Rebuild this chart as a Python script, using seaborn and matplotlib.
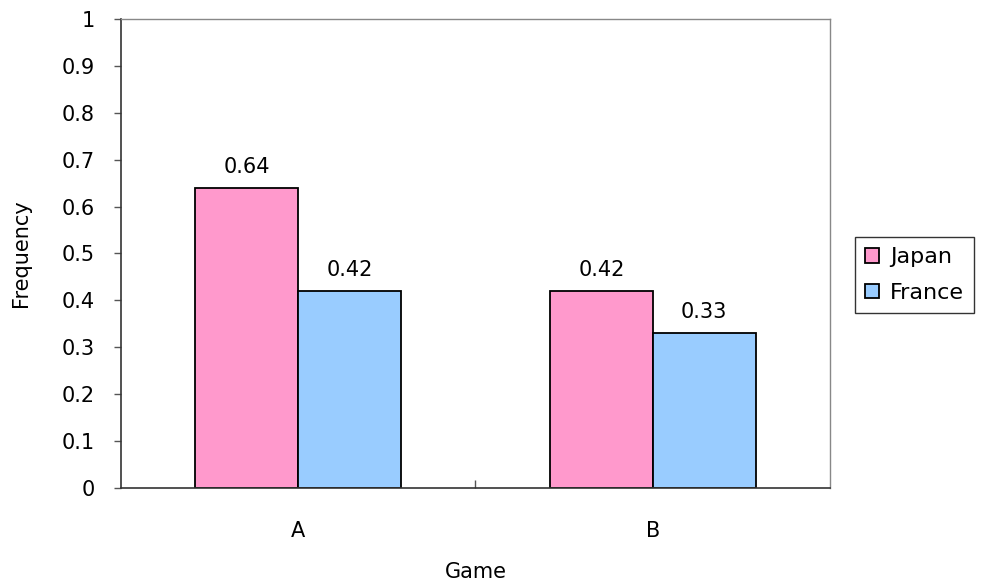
import matplotlib
matplotlib.use("Agg")
import matplotlib.pyplot as plt
import seaborn as sns
import pandas as pd
from matplotlib.ticker import FixedLocator, FuncFormatter

games = ["A", "B"]
countries = ["Japan", "France"]
japan = [0.64, 0.42]
france = [0.42, 0.33]
colors = ["#FF99CC", "#99CCFF"]
yticks = [0, 0.1, 0.2, 0.3, 0.4, 0.5, 0.6, 0.7, 0.8, 0.9, 1]

df = pd.DataFrame({
    "Game": games * 2,
    "Country": ["Japan"] * len(games) + ["France"] * len(games),
    "Frequency": japan + france,
})

sns.set_theme(style="white")
plt.rcParams["font.family"] = ["DejaVu Sans"]
plt.rcParams["text.color"] = "black"
plt.rcParams["axes.labelcolor"] = "black"

fig = plt.figure(figsize=(9.91, 5.82), dpi=100)
ax = fig.add_axes([0.1221, 0.1615, 0.7154, 0.8059])

sns.barplot(data=df, x="Game", y="Frequency", hue="Country",
            hue_order=countries, palette=colors, width=0.58,
            edgecolor="black", linewidth=1.3, saturation=1, ax=ax)

for cont in ax.containers:
    ax.bar_label(cont, labels=[f"{v:.2f}" for v in cont.datavalues],
                 padding=8, fontsize=15, color="black")

ax.set_ylim(0, 1)
ax.set_xlim(-0.5, 1.5)
ax.yaxis.set_major_locator(FixedLocator(yticks))
ax.yaxis.set_major_formatter(FuncFormatter(lambda v, p: f"{v:g}"))
ax.tick_params(axis="y", which="major", direction="out", length=5,
               width=1, color="#555555", labelsize=15, left=True, pad=14,
               labelcolor="black")
ax.tick_params(axis="x", which="major", length=0, labelsize=15, pad=24,
               labelcolor="black")
ax.xaxis.set_minor_locator(FixedLocator([0.5]))
ax.tick_params(axis="x", which="minor", direction="in", length=6,
               width=1, color="#555555", bottom=True)

for side in ["top", "right"]:
    ax.spines[side].set_color("#888888")
    ax.spines[side].set_linewidth(1)
for side in ["left", "bottom"]:
    ax.spines[side].set_color("#333333")
    ax.spines[side].set_linewidth(1.2)

ax.set_xlabel("Game", fontsize=15, labelpad=15)
ax.set_ylabel("Frequency", fontsize=15, labelpad=22)

handles, labels = ax.get_legend_handles_labels()
leg = ax.legend(handles, labels, loc="center left",
                bbox_to_anchor=(1.036, 0.454), fontsize=16, frameon=True,
                fancybox=False, edgecolor="black", handlelength=0.6,
                handleheight=0.6, handletextpad=0.5, borderpad=0.45,
                labelspacing=0.7, borderaxespad=0)
leg.get_frame().set_linewidth(1)

fig.savefig("out.png", dpi=100)
